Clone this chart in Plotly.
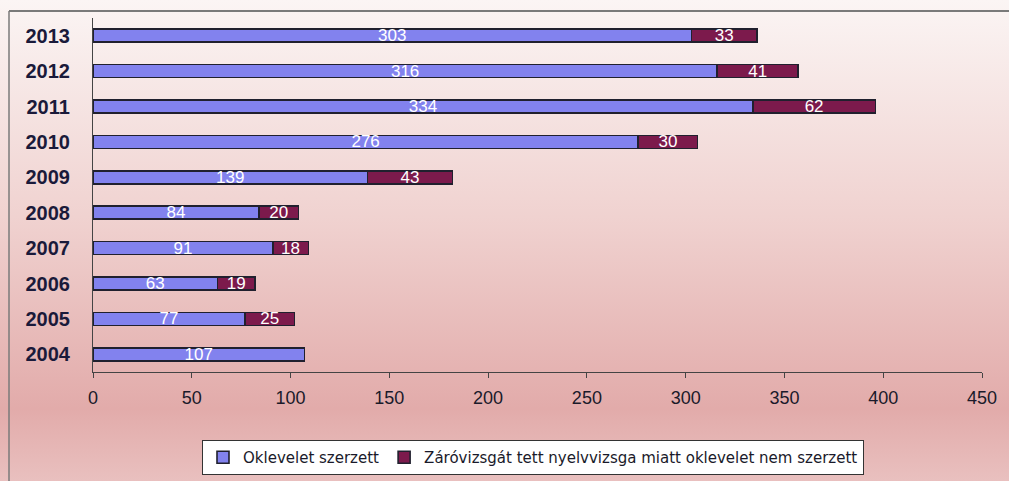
import urllib.parse
import plotly.graph_objects as go

# Years (category axis, bottom to top) and the two stacked series
years = ["2004", "2005", "2006", "2007", "2008", "2009", "2010", "2011", "2012", "2013"]
oklevel = [107, 77, 63, 91, 84, 139, 276, 334, 316, 303]
nyelvvizsga = [None, 25, 19, 18, 20, 43, 30, 62, 41, 33]

x_ticks = [0, 50, 100, 150, 200, 250, 300, 350, 400, 450]

name_a = "Oklevelet szerzett"
name_b = "Záróvizsgát tett nyelvvizsga miatt oklevelet nem szerzett"

font_family = "Arial, Liberation Sans, sans-serif"

fig = go.Figure()

fig.add_trace(go.Bar(
    y=years, x=oklevel, orientation="h", name=name_a,
    marker=dict(color="#8282ee", line=dict(color="#20202e", width=1.6)),
    text=[str(v) for v in oklevel], textposition="inside", textangle=0,
    insidetextanchor="middle",
    textfont=dict(color="white", size=17, family=font_family),
    width=0.37,
))
fig.add_trace(go.Bar(
    y=years, x=nyelvvizsga, orientation="h", name=name_b,
    marker=dict(color="#7c1a4c", line=dict(color="#20202e", width=1.6)),
    text=["" if v is None else str(v) for v in nyelvvizsga], textposition="inside",
    textangle=0, insidetextanchor="middle",
    textfont=dict(color="white", size=17, family=font_family),
    width=0.37,
))

# Soft pink vertical gradient behind the whole chart
svg = (
    "<svg xmlns='http://www.w3.org/2000/svg' width='10' height='100' preserveAspectRatio='none'>"
    "<defs><linearGradient id='g' x1='0' y1='0' x2='0' y2='1'>"
    "<stop offset='0' stop-color='#fbf5f4'/>"
    "<stop offset='0.45' stop-color='#f0d2d0'/>"
    "<stop offset='0.85' stop-color='#e2abaa'/>"
    "<stop offset='1' stop-color='#e9c0bf'/>"
    "</linearGradient></defs>"
    "<rect width='10' height='100' fill='url(#g)'/></svg>"
)
src = "data:image/svg+xml;charset=utf-8," + urllib.parse.quote(svg)

W, H = 1009, 481
ml, mr, mt, mb = 93, 27, 18, 109
pw, ph = W - ml - mr, H - mt - mb


def px_to_paper_x(px):
    return (px - ml) / pw


def px_to_paper_y(py):
    return (H - mb - py) / ph


fig.add_layout_image(dict(
    source=src, xref="paper", yref="paper",
    x=px_to_paper_x(0), y=px_to_paper_y(0),
    sizex=W / pw, sizey=H / ph,
    xanchor="left", yanchor="top", sizing="stretch", layer="below",
))

# Outer frame lines (top and left edges)
fig.add_shape(type="line", xref="paper", yref="paper",
              x0=px_to_paper_x(9), x1=px_to_paper_x(W + 5),
              y0=px_to_paper_y(11), y1=px_to_paper_y(11),
              line=dict(color="#7a7a7a", width=2))
fig.add_shape(type="line", xref="paper", yref="paper",
              x0=px_to_paper_x(9), x1=px_to_paper_x(9),
              y0=px_to_paper_y(11), y1=px_to_paper_y(H + 5),
              line=dict(color="#7a7a7a", width=1.5))

fig.update_layout(
    width=W, height=H,
    margin=dict(l=ml, r=mr, t=mt, b=mb, autoexpand=False),
    barmode="stack",
    paper_bgcolor="rgba(0,0,0,0)",
    plot_bgcolor="rgba(0,0,0,0)",
    font=dict(family=font_family, color="#1a1a2a"),
    uniformtext=dict(minsize=17, mode="show"),
    showlegend=True,
    legend=dict(
        orientation="h", traceorder="normal",
        xref="container", x=533 / W, xanchor="center",
        yref="container", y=1 - 440 / H, yanchor="top",
        bgcolor="white", bordercolor="#333333", borderwidth=1,
        font=dict(size=15, family="DejaVu Sans, sans-serif", color="#1a1a2a"),
        itemwidth=30, tracegroupgap=0,
    ),
    xaxis=dict(
        range=[0, 450], tickvals=x_ticks, ticktext=[str(v) for v in x_ticks],
        showgrid=False, zeroline=False, showline=True, linecolor="#444444",
        linewidth=1.2, ticks="outside", ticklen=5, tickcolor="#444444",
        ticklabelstandoff=4,
        tickfont=dict(size=18, color="#1a1a2a"),
    ),
    yaxis=dict(
        categoryorder="array", categoryarray=years, range=[-0.5, 9.5],
        showgrid=False, zeroline=False, showline=True, linecolor="#444444",
        linewidth=1.2, ticks="",
        ticklabelstandoff=18,
        tickfont=dict(size=20, color="#1a1a3a", family=font_family, weight="bold"),
    ),
)

fig.write_html("out.html")
